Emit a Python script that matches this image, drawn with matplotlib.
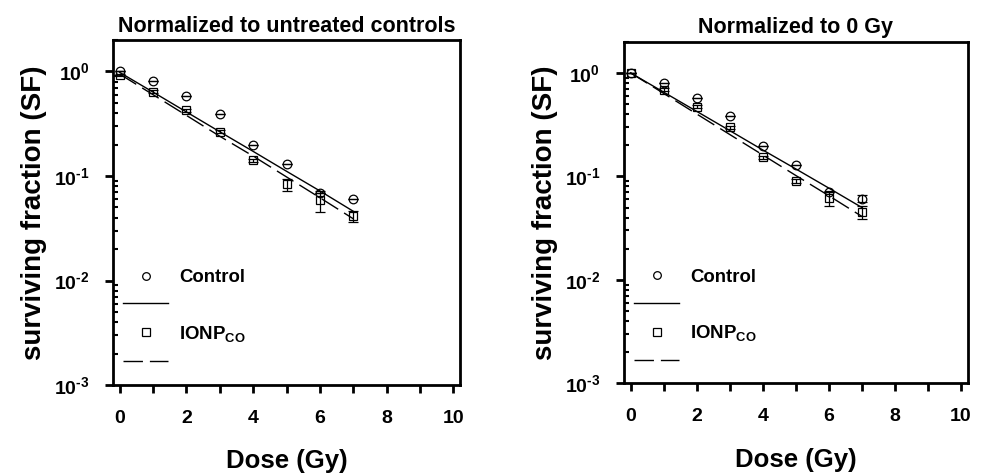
import numpy as np
import matplotlib
matplotlib.use("Agg")
import matplotlib.pyplot as plt
from matplotlib.lines import Line2D
from matplotlib.ticker import FixedLocator, FuncFormatter, LogLocator, NullFormatter

plt.rcParams['font.family'] = ['Liberation Sans', 'DejaVu Sans']
plt.rcParams['font.weight'] = 'bold'
plt.rcParams['mathtext.fontset'] = 'custom'
plt.rcParams['mathtext.rm'] = 'Liberation Sans:bold'
plt.rcParams['mathtext.bf'] = 'Liberation Sans:bold'
plt.rcParams['mathtext.it'] = 'Liberation Sans:bold:italic'

# ---------------- data ----------------
dose = [0, 1, 2, 3, 4, 5, 6, 7]

# Panel A: normalized to untreated controls
a_ctrl = [1.00, 0.814, 0.585, 0.39, 0.198, 0.129, 0.069, 0.0606]
a_ctrl_err = [0.0, 0.0, 0.0, 0.0, 0.0, 0.0, 0.0, 0.0]
a_ionp = [0.93, 0.639, 0.427, 0.266, 0.141, 0.083, 0.0585, 0.0413]
a_ionp_err = [0.02, 0.02, 0.015, 0.01, 0.005, 0.0105, 0.0135, 0.005]
a_ctrl_fit = [0.98, 0.635, 0.41, 0.265, 0.172, 0.111, 0.072, 0.046]
a_ionp_fit = [0.944, 0.60, 0.38, 0.24, 0.155, 0.098, 0.062, 0.039]

# Panel B: normalized to 0 Gy
b_ctrl = [1.00, 0.80, 0.576, 0.385, 0.198, 0.129, 0.071, 0.061]
b_ctrl_err = [0.0, 0.0, 0.0, 0.0, 0.0, 0.0, 0.0, 0.0045]
b_ionp = [1.00, 0.69, 0.469, 0.297, 0.153, 0.090, 0.062, 0.045]
b_ionp_err = [0.0, 0.02, 0.015, 0.01, 0.005, 0.004, 0.0105, 0.0065]
b_ctrl_fit = [1.00, 0.652, 0.425, 0.277, 0.18, 0.118, 0.077, 0.050]
b_ionp_fit = [1.00, 0.634, 0.401, 0.254, 0.161, 0.102, 0.065, 0.041]

titles = ["Normalized to untreated controls", "Normalized to 0 Gy"]
x_ticks = [0, 1, 2, 3, 4, 5, 6, 7, 8, 9, 10]
x_ticklabels = ['0', '', '2', '', '4', '', '6', '', '8', '', '10']
legend_labels = ['Control', ' ', r'$\mathbf{IONP_{CO}}$', ' ']
xlabel = 'Dose (Gy)'
ylabel = 'surviving fraction (SF)'

panels = [
    (a_ctrl, a_ctrl_err, a_ionp, a_ionp_err, a_ctrl_fit, a_ionp_fit),
    (b_ctrl, b_ctrl_err, b_ionp, b_ionp_err, b_ctrl_fit, b_ionp_fit),
]

fig = plt.figure(figsize=(9.81, 4.73), dpi=100)
positions = [[0.1152, 0.186, 0.3537, 0.7294], [0.636, 0.1896, 0.3504, 0.7222]]

dash = (0, (14, 5))
ms = 6.2


def log_fmt(v, p):
    e = int(round(np.log10(v)))
    if e < 0:
        return r'$\mathbf{10^{\text{-}%d}}$' % (-e)
    return r'$\mathbf{10^{%d}}$' % e


for pos, title, (c, ce, s, se, cf, sf) in zip(positions, titles, panels):
    ax = fig.add_axes(pos)
    ax.set_yscale('log')
    ax.set_xlim(-0.2, 10.2)
    ax.set_ylim(1e-3, 2)

    ax.plot(dose, cf, color='black', lw=1.0, zorder=2)
    ax.plot(dose, sf, color='black', lw=1.0, ls=dash, zorder=2)
    ax.errorbar(dose, c, yerr=ce, fmt='o', ms=ms, mfc='none', mec='black', mew=0.9,
                ecolor='black', elinewidth=0.9, capsize=3.6, capthick=0.9, zorder=3)
    ax.errorbar(dose, s, yerr=se, fmt='s', ms=ms, mfc='none', mec='black', mew=0.9,
                ecolor='black', elinewidth=0.9, capsize=3.6, capthick=0.9, zorder=3)

    for sp in ax.spines.values():
        sp.set_linewidth(2.0)

    ax.xaxis.set_major_locator(FixedLocator(x_ticks))
    ax.set_xticklabels(x_ticklabels)
    ax.yaxis.set_major_locator(LogLocator(base=10, numticks=10))
    ax.yaxis.set_minor_locator(LogLocator(base=10, subs=np.arange(2, 10), numticks=10))
    ax.yaxis.set_minor_formatter(NullFormatter())
    ax.yaxis.set_major_formatter(FuncFormatter(log_fmt))

    ax.tick_params(axis='both', which='major', direction='out', length=6, width=2,
                   labelsize=14)
    ax.tick_params(axis='x', which='major', pad=12)
    ax.tick_params(axis='y', which='major', pad=11)
    ax.tick_params(axis='y', which='minor', direction='in', length=3.5, width=1.5)
    for lab in ax.get_xticklabels() + ax.get_yticklabels():
        lab.set_fontweight('bold')

    ax.set_title(title, fontsize=15.5, fontweight='bold', pad=6)
    ax.set_xlabel(xlabel, fontsize=18.5, fontweight='bold', labelpad=16)
    ax.set_ylabel(ylabel, fontsize=20, fontweight='bold', labelpad=5)

    handles = [
        Line2D([], [], ls='none', marker='o', ms=5.5, mfc='none', mec='black', mew=0.9),
        Line2D([], [], color='black', lw=1.0),
        Line2D([], [], ls='none', marker='s', ms=5.5, mfc='none', mec='black', mew=0.9),
        Line2D([], [], color='black', lw=1.0, ls=dash),
    ]
    leg = ax.legend(handles, legend_labels, loc='upper left', bbox_to_anchor=(0.03, 0.335),
                    frameon=False, borderaxespad=0, borderpad=0, handlelength=2.4,
                    handletextpad=0.6, labelspacing=0.55, prop={'weight': 'bold', 'size': 13.4})

fig.savefig('out.png', dpi=100)
